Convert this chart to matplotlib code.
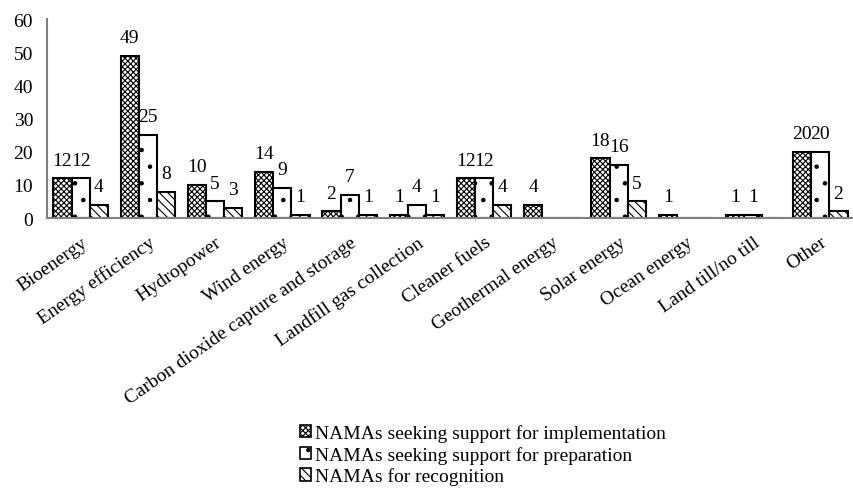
import matplotlib
matplotlib.use("Agg")
import matplotlib.pyplot as plt
from matplotlib.patches import Patch
import numpy as np

categories = ["Bioenergy", "Energy efficiency", "Hydropower", "Wind energy",
              "Carbon dioxide capture and storage", "Landfill gas collection",
              "Cleaner fuels", "Geothermal energy", "Solar energy", "Ocean energy",
              "Land till/no till", "Other"]
implementation = [12, 49, 10, 14, 2, 1, 12, 4, 18, 1, 1, 20]
preparation = [12, 25, 5, 9, 7, 4, 12, 0, 16, 0, 1, 20]
recognition = [4, 8, 3, 1, 1, 1, 4, 0, 5, 0, 0, 2]
series_names = ["NAMAs seeking support for implementation",
                "NAMAs seeking support for preparation",
                "NAMAs for recognition"]
yticks = [0, 10, 20, 30, 40, 50, 60]

plt.rcParams['font.family'] = ['Liberation Serif', 'DejaVu Serif']
plt.rcParams['hatch.linewidth'] = 0.8

FS = 14
fig = plt.figure(figsize=(8.54, 4.89), dpi=100)
ax = fig.add_axes([0.055, 0.552, 0.945, 0.407])

x = np.arange(len(categories))
w = 0.27
hatches = ['xxxxxx', '.', '\\\\\\\\']
data = [implementation, preparation, recognition]
handles = []
for i, (vals, h) in enumerate(zip(data, hatches)):
    pos = x + (i - 1) * w
    ax.bar(pos, vals, w, facecolor='white', edgecolor='black', hatch=h, linewidth=0)
    ax.bar(pos, vals, w, fill=False, edgecolor='black', linewidth=1.5)
    handles.append(Patch(facecolor='white', edgecolor='black', hatch=h, linewidth=1.2))
    for p, v in zip(pos, vals):
        if v > 0:
            ax.annotate(str(v), (p, v), xytext=(0, 7), textcoords='offset points',
                        ha='center', va='bottom', fontsize=FS)

ax.set_xlim(-0.5, len(categories) - 0.5)
ax.set_ylim(0, 60)
ax.set_yticks(yticks)
ax.tick_params(axis='y', length=0, labelsize=FS, pad=10)
ax.tick_params(axis='x', length=0, labelsize=FS, pad=11)
ax.set_xticks(x)
ax.set_xticklabels(categories, rotation=35, ha='right', rotation_mode='anchor')
for s in ['top', 'right']:
    ax.spines[s].set_visible(False)
for s in ['left', 'bottom']:
    ax.spines[s].set_color('#808080')
    ax.spines[s].set_linewidth(1.5)

fig.legend(handles, series_names, loc='upper left', bbox_to_anchor=(0.351, 0.131),
           frameon=False, fontsize=FS, handlelength=0.6, handleheight=0.6,
           handletextpad=0.2, labelspacing=0.2, borderpad=0, borderaxespad=0)

fig.savefig("out.png", dpi=100)
